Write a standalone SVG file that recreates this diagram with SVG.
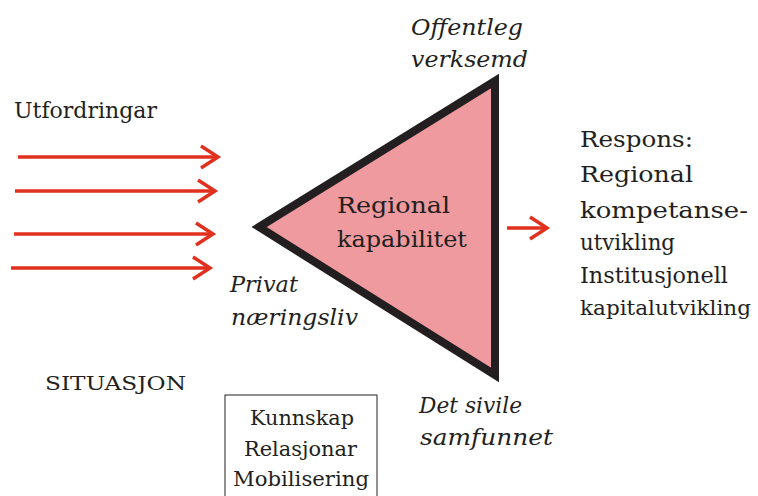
<svg xmlns="http://www.w3.org/2000/svg" width="758" height="496" viewBox="0 0 758 496">
<style>
text{font-family:"DejaVu Serif",serif;fill:#231f20}
.t{font-size:23px}
.i{font-size:22px;font-style:italic}
.b{font-size:21px}
.red{stroke:#e0301e;stroke-width:3.5;fill:none}
</style>
<defs>
<marker id="chev" markerUnits="userSpaceOnUse" markerWidth="24" markerHeight="28" refX="20" refY="12" orient="auto" viewBox="0 0 24 24">
<path d="M3,1 L20,12 L3,23" fill="none" stroke="#e0301e" stroke-width="3.5"/>
</marker>
</defs>
<rect width="758" height="496" fill="#fff"/>
<g id="connectors">
<line class="red" x1="18" y1="157" x2="218" y2="157" marker-end="url(#chev)"/>
<line class="red" x1="15" y1="191" x2="215" y2="191" marker-end="url(#chev)"/>
<line class="red" x1="14" y1="234" x2="213" y2="234" marker-end="url(#chev)"/>
<line class="red" x1="11" y1="268" x2="210" y2="268" marker-end="url(#chev)"/>
<line class="red" x1="507" y1="228" x2="547" y2="228" marker-end="url(#chev)"/>
</g>
<g id="challenges">
<text class="t" x="14" y="118" textLength="143" lengthAdjust="spacingAndGlyphs">Utfordringar</text>
</g>
<g id="triangle">
<polygon points="259,227 495,81 495,375" fill="#ee9a9e" stroke="#231f20" stroke-width="8" stroke-linejoin="miter"/>
<text class="t" x="337" y="213" textLength="113" lengthAdjust="spacingAndGlyphs">Regional</text>
<text class="t" x="337" y="247" textLength="130" lengthAdjust="spacingAndGlyphs">kapabilitet</text>
</g>
<g id="offentleg">
<text class="i" x="411" y="35" textLength="112" lengthAdjust="spacingAndGlyphs">Offentleg</text>
<text class="i" x="411" y="67" textLength="117" lengthAdjust="spacingAndGlyphs">verksemd</text>
</g>
<g id="privat">
<text class="i" x="230" y="292" textLength="68" lengthAdjust="spacingAndGlyphs">Privat</text>
<text class="i" x="231" y="325" textLength="127" lengthAdjust="spacingAndGlyphs">næringsliv</text>
</g>
<g id="sivile">
<text class="i" x="419" y="413" textLength="103" lengthAdjust="spacingAndGlyphs">Det sivile</text>
<text class="i" x="420" y="445" textLength="133" lengthAdjust="spacingAndGlyphs">samfunnet</text>
</g>
<g id="situasjon">
<text x="45" y="390" font-size="18" textLength="141" lengthAdjust="spacingAndGlyphs">SITUASJON</text>
</g>
<g id="box">
<rect x="225" y="395" width="152" height="110" fill="#fff" stroke="#231f20" stroke-width="1"/>
<text class="b" x="250" y="425" textLength="104" lengthAdjust="spacingAndGlyphs">Kunnskap</text>
<text class="b" x="244" y="456" textLength="113" lengthAdjust="spacingAndGlyphs">Relasjonar</text>
<text class="b" x="233" y="486" textLength="136" lengthAdjust="spacingAndGlyphs">Mobilisering</text>
</g>
<g id="respons">
<text class="t" x="580" y="147" textLength="113" lengthAdjust="spacingAndGlyphs">Respons:</text>
<text class="t" x="580" y="182" textLength="113" lengthAdjust="spacingAndGlyphs">Regional</text>
<text class="t" x="580" y="218" textLength="168" lengthAdjust="spacingAndGlyphs">kompetanse-</text>
<text class="t" x="580" y="250" textLength="95" lengthAdjust="spacingAndGlyphs">utvikling</text>
<text class="t" x="580" y="283" textLength="148" lengthAdjust="spacingAndGlyphs">Institusjonell</text>
<text x="580" y="315" font-size="21" textLength="171" lengthAdjust="spacingAndGlyphs">kapitalutvikling</text>
</g>
</svg>
